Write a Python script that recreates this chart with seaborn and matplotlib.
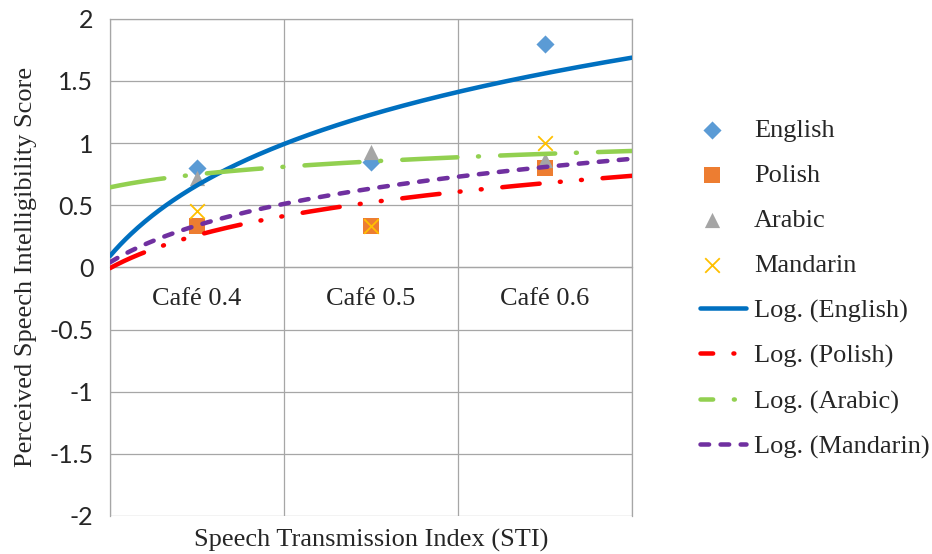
import numpy as np
import pandas as pd
import matplotlib
matplotlib.use("Agg")
import matplotlib.pyplot as plt
from matplotlib.collections import PathCollection
from matplotlib.legend_handler import HandlerPathCollection
import seaborn as sns

# values
categories = ["Café 0.4", "Café 0.5", "Café 0.6"]
english = [0.80, 0.85, 1.80]
polish = [0.33, 0.33, 0.80]
arabic = [0.72, 0.93, 0.865]
mandarin = [0.45, 0.33, 1.00]
y_ticks = [2, 1.5, 1, 0.5, 0, -0.5, -1, -1.5, -2]
y_tick_labels = ["2", "1.5", "1", "0.5", "0", "-0.5", "-1", "-1.5", "-2"]

sns.set_style("white")
plt.rcParams["font.family"] = ["Liberation Serif", "DejaVu Serif"]
plt.rcParams["axes.unicode_minus"] = False

pos = np.arange(1, len(categories) + 1)
df = pd.DataFrame({"pos": pos, "English": english, "Polish": polish,
                   "Arabic": arabic, "Mandarin": mandarin})

# name, marker, marker colour, marker size, trend colour, dash pattern, legend dash offset
series = [
    ("English", "D", "#5B9BD5", 85, "#0070C0", None, 0),
    ("Polish", "s", "#ED7D31", 125, "#FF0000", (8.3, 4.5, 0.2, 4.5, 0.2, 4.6), 5.5),
    ("Arabic", "^", "#A5A5A5", 120, "#92D050", (12.2, 4.6, 0.2, 4.7), 9.4),
    ("Mandarin", "x", "#FFC000", 110, "#7030A0", (1.9, 2.55), 0),
]

grid_col = "#A6A6A6"
fig = plt.figure(figsize=(9.32, 5.54), dpi=100)
ax = fig.add_axes([0.118, 0.0686, 0.56, 0.8974])
ax.spines["bottom"].set_position(("data", 0))

for name, mk, mc, ms, lc, dash, off in series:
    kw = dict(marker=mk, color=mc, s=ms, label=name, ax=ax, zorder=3)
    kw["linewidth"] = 1.3 if mk == "x" else 0
    sns.scatterplot(x=df["pos"], y=df[name], **kw)

# logarithmic trendlines, fitted y = a*ln(x) + b as Excel does
xs = np.linspace(0.5, 3.5, 300)
for name, mk, mc, ms, lc, dash, off in series:
    a, b = np.polyfit(np.log(df["pos"]), df[name], 1)
    ls = "-" if dash is None else (0, dash)
    sns.lineplot(x=xs, y=a * np.log(xs) + b, color=lc, linewidth=3.25,
                 linestyle=ls, label="Log. (" + name + ")", ax=ax,
                 errorbar=None, zorder=4)
for line in ax.get_lines():
    line.set_dash_capstyle("round")
    line.set_solid_capstyle("round")

ax.set_xlim(0.5, 3.5)
ax.set_ylim(-2, 2)
ax.set_yticks(y_ticks)
ax.set_yticklabels(y_tick_labels)
ax.set_xticks(pos)
ax.set_xticklabels(categories)
ax.set_xticks([0.5, 1.5, 2.5, 3.5], minor=True)
ax.tick_params(axis="x", which="both", length=0, pad=14.8, labelsize=19)
ax.tick_params(axis="y", length=6, color=grid_col, width=0.9, pad=6,
               labelsize=18, labelfontfamily="Lato")
ax.grid(axis="y", color=grid_col, linewidth=0.9)
ax.grid(axis="x", which="minor", color=grid_col, linewidth=0.9)
ax.grid(axis="x", which="major", visible=False)
for s in ax.spines.values():
    s.set_color(grid_col)
    s.set_linewidth(0.9)

ax.set_xlabel("Speech Transmission Index (STI)", fontsize=19)
ax.xaxis.set_label_coords(0.5, -0.025)
ax.set_ylabel("Perceived Speech Intelligibility Score", fontsize=19)
ax.yaxis.set_label_coords(-0.14, 0.5)

handles, labels = ax.get_legend_handles_labels()
if ax.legend_:
    ax.legend_.remove()
# markers sit toward the left of the legend key, like Excel does
leg = fig.legend(handles, labels, loc="center left", bbox_to_anchor=(0.751, 0.479),
                 frameon=False, fontsize=19, borderpad=0, borderaxespad=0,
                 handlelength=1.75, handletextpad=0.3, labelspacing=0.82,
                 handler_map={PathCollection: HandlerPathCollection(xpad=-0.84)})
# shift the legend dash patterns so dash and dot both show, as in Excel
for line, (name, mk, mc, ms, lc, dash, off) in zip(leg.get_lines(), series):
    line.set_dash_capstyle("round")
    line.set_solid_capstyle("round")
    if dash is not None:
        line.set_linestyle((off, dash))

fig.savefig("out.png", dpi=100)
